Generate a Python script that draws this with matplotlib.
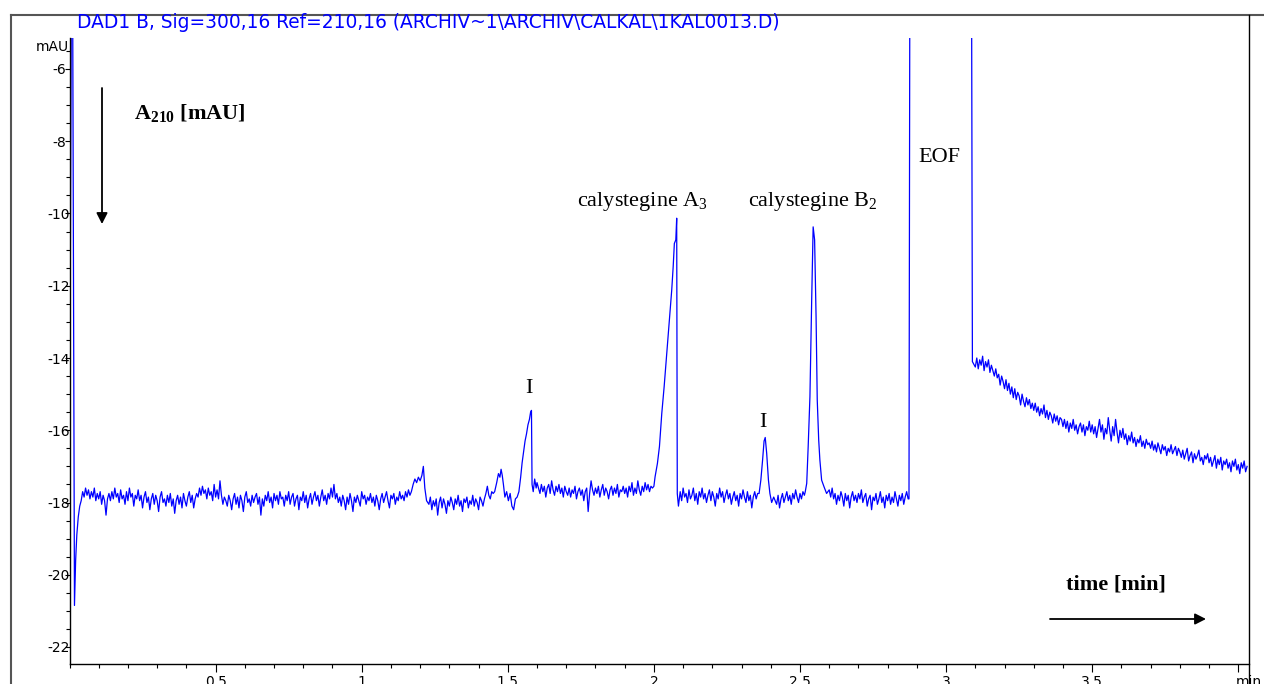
import numpy as np
import matplotlib
matplotlib.use("Agg")
import matplotlib.pyplot as plt
from matplotlib.lines import Line2D
from matplotlib.patches import FancyArrowPatch
from matplotlib.ticker import MultipleLocator, FixedLocator

plt.rcParams['axes.unicode_minus'] = False
plt.rcParams['mathtext.fontset'] = 'custom'
plt.rcParams['mathtext.rm'] = 'Liberation Serif'
plt.rcParams['mathtext.bf'] = 'Liberation Serif:bold'
plt.rcParams['mathtext.it'] = 'Liberation Serif:italic'

# ---------------------------------------------------------------------------
# Electropherogram trace, DAD signal in mAU against migration time in min.
# Explicit (time, value) pieces around sharp features, 0.005-min sampled
# stretches for the noisy baseline in between.
# ---------------------------------------------------------------------------
STEP = 0.005

# injection disturbance at the very start
spike_t = [0.000, 0.006, 0.011, 0.017, 0.021, 0.025, 0.030, 0.035]
spike_v = [-17.9, -4.5, -4.5, -20.85, -19.6, -18.9, -18.4, -18.1]

# baseline 0.040 .. 1.160 min
base_a_start = 0.04
base_a = [
    -17.95, -17.7, -17.85, -17.6, -17.8, -17.65, -17.9, -17.7, -17.85, -17.6,
    -17.95, -17.75, -17.9, -17.7, -18.05, -17.8, -17.95, -18.35, -17.9, -17.75,
    -17.95, -17.7, -17.9, -17.6, -17.85, -17.75, -18.0, -17.65, -17.9, -17.8,
    -18.05, -17.7, -17.95, -17.6, -17.85, -17.75, -18.1, -17.8, -17.9, -17.65,
    -17.95, -17.8, -18.15, -17.85, -17.7, -18.0, -17.85, -18.2, -17.9, -17.75,
    -18.05, -17.8, -17.95, -18.25, -17.85, -17.7, -18.0, -17.9, -18.1, -17.8,
    -18.0, -17.75, -18.1, -17.9, -18.3, -17.95, -17.8, -18.05, -17.85, -18.15,
    -17.75, -17.95, -18.1, -17.85, -17.7, -18.0, -17.8, -18.15, -17.9, -17.75,
    -17.85, -17.6, -17.8, -17.55, -17.75, -17.65, -17.9, -17.6, -17.8, -17.7,
    -17.95, -17.5, -17.85, -17.65, -17.9, -17.4, -17.8, -18.05, -17.85, -17.95,
    -18.1, -17.8, -17.95, -18.2, -17.9, -17.75, -18.05, -17.85, -18.15, -17.8,
    -17.95, -18.25, -17.85, -17.7, -18.0, -17.9, -18.1, -17.8, -18.0, -17.85,
    -17.75, -18.05, -17.85, -18.35, -17.9, -18.1, -17.8, -17.95, -17.7, -18.0,
    -17.85, -18.15, -17.75, -17.95, -17.8, -18.05, -17.7, -17.9, -17.85, -18.1,
    -17.8, -17.95, -17.7, -18.05, -17.85, -17.75, -18.1, -17.9, -17.8, -18.2,
    -17.85, -17.95, -17.7, -18.0, -17.8, -18.15, -17.9, -17.75, -18.05, -17.85,
    -17.7, -17.95, -17.8, -18.1, -17.85, -17.65, -17.95, -17.8, -18.05, -17.75,
    -17.9, -17.6, -17.85, -17.5, -17.9, -17.75, -18.0, -17.85, -18.1, -17.8,
    -17.95, -18.2, -17.85, -18.05, -17.75, -17.95, -18.25, -17.85, -18.0, -17.8,
    -17.95, -18.1, -17.7, -17.9, -17.8, -18.05, -17.85, -17.95, -17.75, -18.0,
    -17.85, -18.1, -17.8, -17.95, -18.2, -17.9, -17.75, -18.0, -17.85, -17.7,
    -17.95, -18.15, -17.8, -17.9, -17.75, -18.05, -17.85, -17.95, -17.7, -17.9,
    -17.8, -17.95, -17.7, -17.85, -17.65,
]

# small bump near 1.2 min
bump_t = [1.165, 1.170, 1.176, 1.182, 1.188, 1.194, 1.200, 1.206, 1.211, 1.216, 1.222]
bump_v = [-17.8, -17.7, -17.5, -17.35, -17.45, -17.3, -17.4, -17.25, -17.0, -17.6, -17.95]

# baseline 1.230 .. 1.450 min
base_b_start = 1.23
base_b = [
    -18.05, -17.85, -18.2, -17.95, -18.1, -17.9, -18.35, -18.0, -17.85, -18.15,
    -17.9, -18.05, -18.3, -17.95, -18.1, -17.85, -18.0, -18.2, -17.9, -18.05,
    -17.8, -18.1, -17.95, -18.25, -17.9, -18.0, -17.85, -18.15, -17.95, -18.05,
    -17.8, -18.1, -17.9, -18.0, -18.2, -17.85, -17.95, -18.1, -17.9, -17.75,
    -17.55, -17.8, -17.9, -17.7, -17.75,
]

# small shoulder and first impurity peak (I)
imp1_t = [1.455, 1.462, 1.468, 1.473, 1.477, 1.481, 1.485, 1.490, 1.496, 1.502,
          1.508, 1.514, 1.520, 1.526, 1.532, 1.538, 1.544, 1.549, 1.554, 1.559,
          1.564, 1.569, 1.574, 1.578, 1.581, 1.583, 1.587, 1.592, 1.597]
imp1_v = [-17.7, -17.45, -17.2, -17.3, -17.08, -17.25, -17.5, -17.85, -17.7, -17.95,
          -17.75, -18.1, -18.2, -17.9, -17.85, -17.7, -17.3, -16.9, -16.6, -16.3,
          -16.1, -15.85, -15.7, -15.5, -15.45, -17.5, -17.7, -17.35, -17.6]

# baseline 1.600 .. 1.995 min
base_c_start = 1.60
base_c = [
    -17.45, -17.6, -17.75, -17.5, -17.7, -17.55, -17.85, -17.6, -17.5, -17.75,
    -17.4, -17.65, -17.8, -17.55, -17.7, -17.5, -17.75, -17.6, -17.85, -17.55,
    -17.7, -17.8, -17.6, -17.85, -17.65, -17.75, -17.55, -17.9, -17.7, -17.6,
    -17.8, -17.65, -17.95, -17.7, -17.6, -18.25, -17.75, -17.4, -17.65, -17.8,
    -17.6, -17.75, -17.55, -17.85, -17.65, -17.5, -17.8, -17.6, -17.7, -17.9,
    -17.65, -17.55, -17.8, -17.6, -17.75, -17.5, -17.85, -17.65, -17.7, -17.55,
    -17.75, -17.6, -17.85, -17.55, -17.7, -17.45, -17.8, -17.6, -17.75, -17.4,
    -17.65, -17.8, -17.55, -17.7, -17.45, -17.65, -17.5, -17.7, -17.55, -17.6,
]

# calystegine A3
a3_t = [2.000, 2.004, 2.012, 2.019, 2.027, 2.035, 2.044, 2.053, 2.061, 2.066,
        2.070, 2.075, 2.078, 2.080, 2.084]
a3_v = [-17.55, -17.29, -16.92, -16.45, -15.53, -14.8, -13.87, -12.95, -12.12, -11.47,
        -10.83, -10.73, -10.13, -17.75, -18.1]

# baseline 2.090 .. 2.355 min
base_d_start = 2.09
base_d = [
    -17.7, -17.95, -17.6, -17.85, -17.75, -18.0, -17.65, -17.9, -17.8, -17.6,
    -17.95, -17.75, -18.05, -17.7, -17.85, -17.6, -17.9, -17.75, -18.0, -17.8,
    -17.65, -17.95, -17.7, -17.85, -18.1, -17.75, -17.9, -17.6, -17.85, -17.7,
    -18.0, -17.8, -17.65, -17.9, -17.75, -18.05, -17.85, -17.7, -17.95, -17.8,
    -18.1, -17.75, -17.9, -17.65, -17.85, -18.0, -17.7, -17.95, -17.8, -18.15,
    -17.85, -17.7, -17.9, -17.75,
]

# second impurity peak (I)
imp2_t = [2.360, 2.366, 2.372, 2.377, 2.381, 2.386, 2.392, 2.397, 2.403]
imp2_v = [-17.75, -17.38, -16.82, -16.3, -16.2, -16.64, -17.38, -17.75, -18.0]

# baseline 2.410 .. 2.515 min
base_e_start = 2.41
base_e = [
    -17.85, -17.95, -18.05, -17.8, -18.15, -17.9, -17.75, -18.0, -17.85, -17.7,
    -17.95, -17.8, -18.05, -17.75, -17.9, -17.65, -17.85, -18.0, -17.75, -17.9,
    -17.7, -17.8,
]

# calystegine B2
b2_t = [2.518, 2.523, 2.528, 2.534, 2.540, 2.545, 2.550, 2.555, 2.559, 2.564,
        2.568, 2.574, 2.582, 2.591]
b2_v = [-17.7, -17.47, -16.45, -15.07, -12.39, -10.37, -10.73, -12.86, -15.16, -16.27,
        -16.82, -17.38, -17.56, -17.75]

# baseline 2.600 .. 2.870 min
base_f_start = 2.60
base_f = [
    -17.65, -17.85, -17.6, -17.9, -17.75, -18.05, -17.8, -17.95, -17.7, -17.85,
    -18.1, -17.75, -17.95, -17.8, -18.15, -17.85, -17.7, -17.95, -17.8, -18.0,
    -17.75, -17.9, -17.65, -18.0, -17.85, -17.75, -18.1, -17.9, -17.8, -18.2,
    -17.85, -17.95, -17.75, -18.05, -17.9, -17.7, -18.0, -17.85, -18.15, -17.8,
    -17.95, -17.75, -18.05, -17.85, -18.0, -17.7, -17.9, -18.1, -17.8, -17.95,
    -17.75, -18.05, -17.85, -17.7, -17.9,
]

# electroosmotic flow signal (off scale)
eof_t = [2.873, 2.876, 3.087, 3.090]
eof_v = [-17.9, -3.0, -3.0, -14.1]

# decaying baseline after the EOF, 3.100 .. 4.030 min
base_g_start = 3.10
base_g = [
    -14.25, -14.0, -14.3, -14.05, -14.2, -13.95, -14.35, -14.1, -14.25, -14.05,
    -14.4, -14.2, -14.35, -14.5, -14.3, -14.55, -14.45, -14.75, -14.5, -14.65,
    -14.85, -14.6, -14.9, -14.7, -15.0, -14.8, -15.1, -14.85, -15.15, -14.95,
    -15.05, -15.3, -15.0, -15.2, -15.35, -15.1, -15.3, -15.15, -15.4, -15.25,
    -15.45, -15.25, -15.5, -15.35, -15.6, -15.4, -15.55, -15.3, -15.65, -15.45,
    -15.7, -15.5, -15.6, -15.8, -15.55, -15.75, -15.6, -15.85, -15.65, -15.7,
    -15.9, -15.7, -15.95, -15.75, -16.05, -15.8, -15.95, -15.7, -16.0, -15.85,
    -16.1, -15.9, -15.8, -16.05, -15.85, -16.15, -15.9, -16.0, -15.75, -16.05,
    -15.85, -16.1, -15.9, -16.2, -15.95, -15.7, -16.05, -15.85, -16.25, -15.95,
    -16.1, -15.65, -16.0, -16.3, -15.9, -16.15, -15.7, -16.05, -16.35, -16.0,
    -16.2, -15.95, -16.25, -16.1, -16.4, -16.15, -16.3, -16.05, -16.35, -16.2,
    -16.45, -16.25, -16.35, -16.15, -16.45, -16.3, -16.5, -16.25, -16.4, -16.35,
    -16.5, -16.3, -16.55, -16.4, -16.6, -16.35, -16.5, -16.65, -16.4, -16.55,
    -16.45, -16.7, -16.5, -16.6, -16.4, -16.65, -16.55, -16.45, -16.7, -16.5,
    -16.6, -16.75, -16.55, -16.8, -16.65, -16.5, -16.85, -16.7, -16.6, -16.9,
    -16.65, -16.8, -16.7, -16.55, -16.85, -16.75, -16.95, -16.7, -16.8, -16.65,
    -16.9, -16.75, -17.0, -16.85, -16.7, -17.05, -16.8, -16.95, -16.75, -17.1,
    -16.85, -16.95, -16.8, -17.05, -16.9, -17.15, -16.85, -17.0, -16.8, -17.1,
    -16.95, -17.2, -16.9, -17.05, -16.85, -17.15, -17.0,
]

# axis ticks
y_major = [-6, -8, -10, -12, -14, -16, -18, -20, -22]
x_major = [0.5, 1.0, 1.5, 2.0, 2.5, 3.0, 3.5, 4.0]
x_labels = ["0.5", "1", "1.5", "2", "2.5", "3", "3.5", ""]

title_text = r"DAD1 B, Sig=300,16 Ref=210,16 (ARCHIV~1\ARCHIV\CALKAL\1KAL0013.D)"


def sampled(start, values):
    return np.round(start + STEP * np.arange(len(values)), 4), values


pieces = [
    (spike_t, spike_v),
    sampled(base_a_start, base_a),
    (bump_t, bump_v),
    sampled(base_b_start, base_b),
    (imp1_t, imp1_v),
    sampled(base_c_start, base_c),
    (a3_t, a3_v),
    sampled(base_d_start, base_d),
    (imp2_t, imp2_v),
    sampled(base_e_start, base_e),
    (b2_t, b2_v),
    sampled(base_f_start, base_f),
    (eof_t, eof_v),
    sampled(base_g_start, base_g),
]
time = np.concatenate([np.asarray(p[0], float) for p in pieces])
signal = np.concatenate([np.asarray(p[1], float) for p in pieces])

# ---------------------------------------------------------------------------
W, H = 1264, 684
fig = plt.figure(figsize=(W / 100, H / 100), dpi=100)


def fx(px):
    return px / W


def fy(py):
    return 1 - py / H


ax_l, ax_r, ax_t, ax_b = 69.5, 1249.0, 38.0, 664.0
ax = fig.add_axes([fx(ax_l), fy(ax_b), fx(ax_r - ax_l), (ax_b - ax_t) / H])
px_per_min = 292.2
px_per_mau = 36.125
ax.set_xlim(0, (ax_r - ax_l) / px_per_min)
ax.set_ylim(-22 - (ax_b - 647) / px_per_mau, -6 + (69 - ax_t) / px_per_mau)

ax.plot(time, signal, color="#0000ff", lw=0.9)

for s in ("top", "right"):
    ax.spines[s].set_visible(False)
for s in ("left", "bottom"):
    ax.spines[s].set_linewidth(1.0)
    ax.spines[s].set_color("black")

ax.xaxis.set_major_locator(FixedLocator(x_major))
ax.set_xticklabels(x_labels)
ax.xaxis.set_minor_locator(MultipleLocator(0.1))
ax.yaxis.set_major_locator(FixedLocator(y_major))
ax.set_yticklabels([str(v) for v in y_major])
ax.yaxis.set_minor_locator(MultipleLocator(0.5))

tick_font = dict(family="DejaVu Sans", size=10)
ax.tick_params(axis="x", which="major", length=5.8, width=0.8, direction="out", pad=2.0)
ax.tick_params(axis="x", which="minor", length=2.9, width=0.8, direction="out")
ax.tick_params(axis="y", which="major", length=3.6, width=0.8, direction="out", pad=4.0)
ax.tick_params(axis="y", which="minor", length=2.9, width=0.8, direction="out")
for lab in ax.get_xticklabels() + ax.get_yticklabels():
    lab.set_fontfamily("DejaVu Sans")
    lab.set_fontsize(10)
for lab in ax.get_yticklabels():
    lab.set_horizontalalignment("center")

ax.text(1.0, -0.018, "min", transform=ax.transAxes, ha="center", va="top",
        **tick_font)
fig.text(fx(52), fy(47), "mAU", ha="center", va="center", **tick_font)

# header line of the instrument printout
fig.text(fx(77), fy(22), title_text, ha="left", va="center", color="#0000ff",
         family="DejaVu Sans", fontsize=13.4)

# outer frame and right border
frame_kw = dict(transform=fig.transFigure, clip_on=False)
fig.add_artist(Line2D([fx(11), fx(W)], [fy(15), fy(15)], color="#555555", lw=1.5, **frame_kw))
fig.add_artist(Line2D([fx(11), fx(11)], [fy(15), fy(H)], color="#555555", lw=1.5, **frame_kw))
fig.add_artist(Line2D([fx(1249), fx(1249)], [fy(15), fy(H)], color="black", lw=1.0, **frame_kw))

# peak annotations
serif = dict(family="Liberation Serif", fontsize=16, color="black")
fig.text(fx(577), fy(206), "calystegine A$_3$", ha="left", va="baseline", **serif)
fig.text(fx(748), fy(206), "calystegine B$_2$", ha="left", va="baseline", **serif)
fig.text(fx(529), fy(393), "I", ha="center", va="baseline", **serif)
fig.text(fx(763), fy(427), "I", ha="center", va="baseline", **serif)
fig.text(fx(918), fy(162), "EOF", ha="left", va="baseline", **serif)
fig.text(fx(134), fy(119), r"$\mathbf{A_{210}}$ [mAU]", ha="left", va="baseline",
         fontweight="bold", **serif)
fig.text(fx(1066), fy(589), "time [min]", ha="left", va="baseline",
         fontweight="bold", **serif)

arrow_kw = dict(transform=fig.transFigure, arrowstyle="-|>,head_length=0.65,head_width=0.33",
                mutation_scale=10, lw=1.3, color="black", shrinkA=0, shrinkB=0)
fig.add_artist(FancyArrowPatch((fx(102), fy(88)), (fx(102), fy(224)), **arrow_kw))
fig.add_artist(FancyArrowPatch((fx(1050), fy(619)), (fx(1206), fy(619)), **arrow_kw))

fig.savefig("out.png", dpi=100)
